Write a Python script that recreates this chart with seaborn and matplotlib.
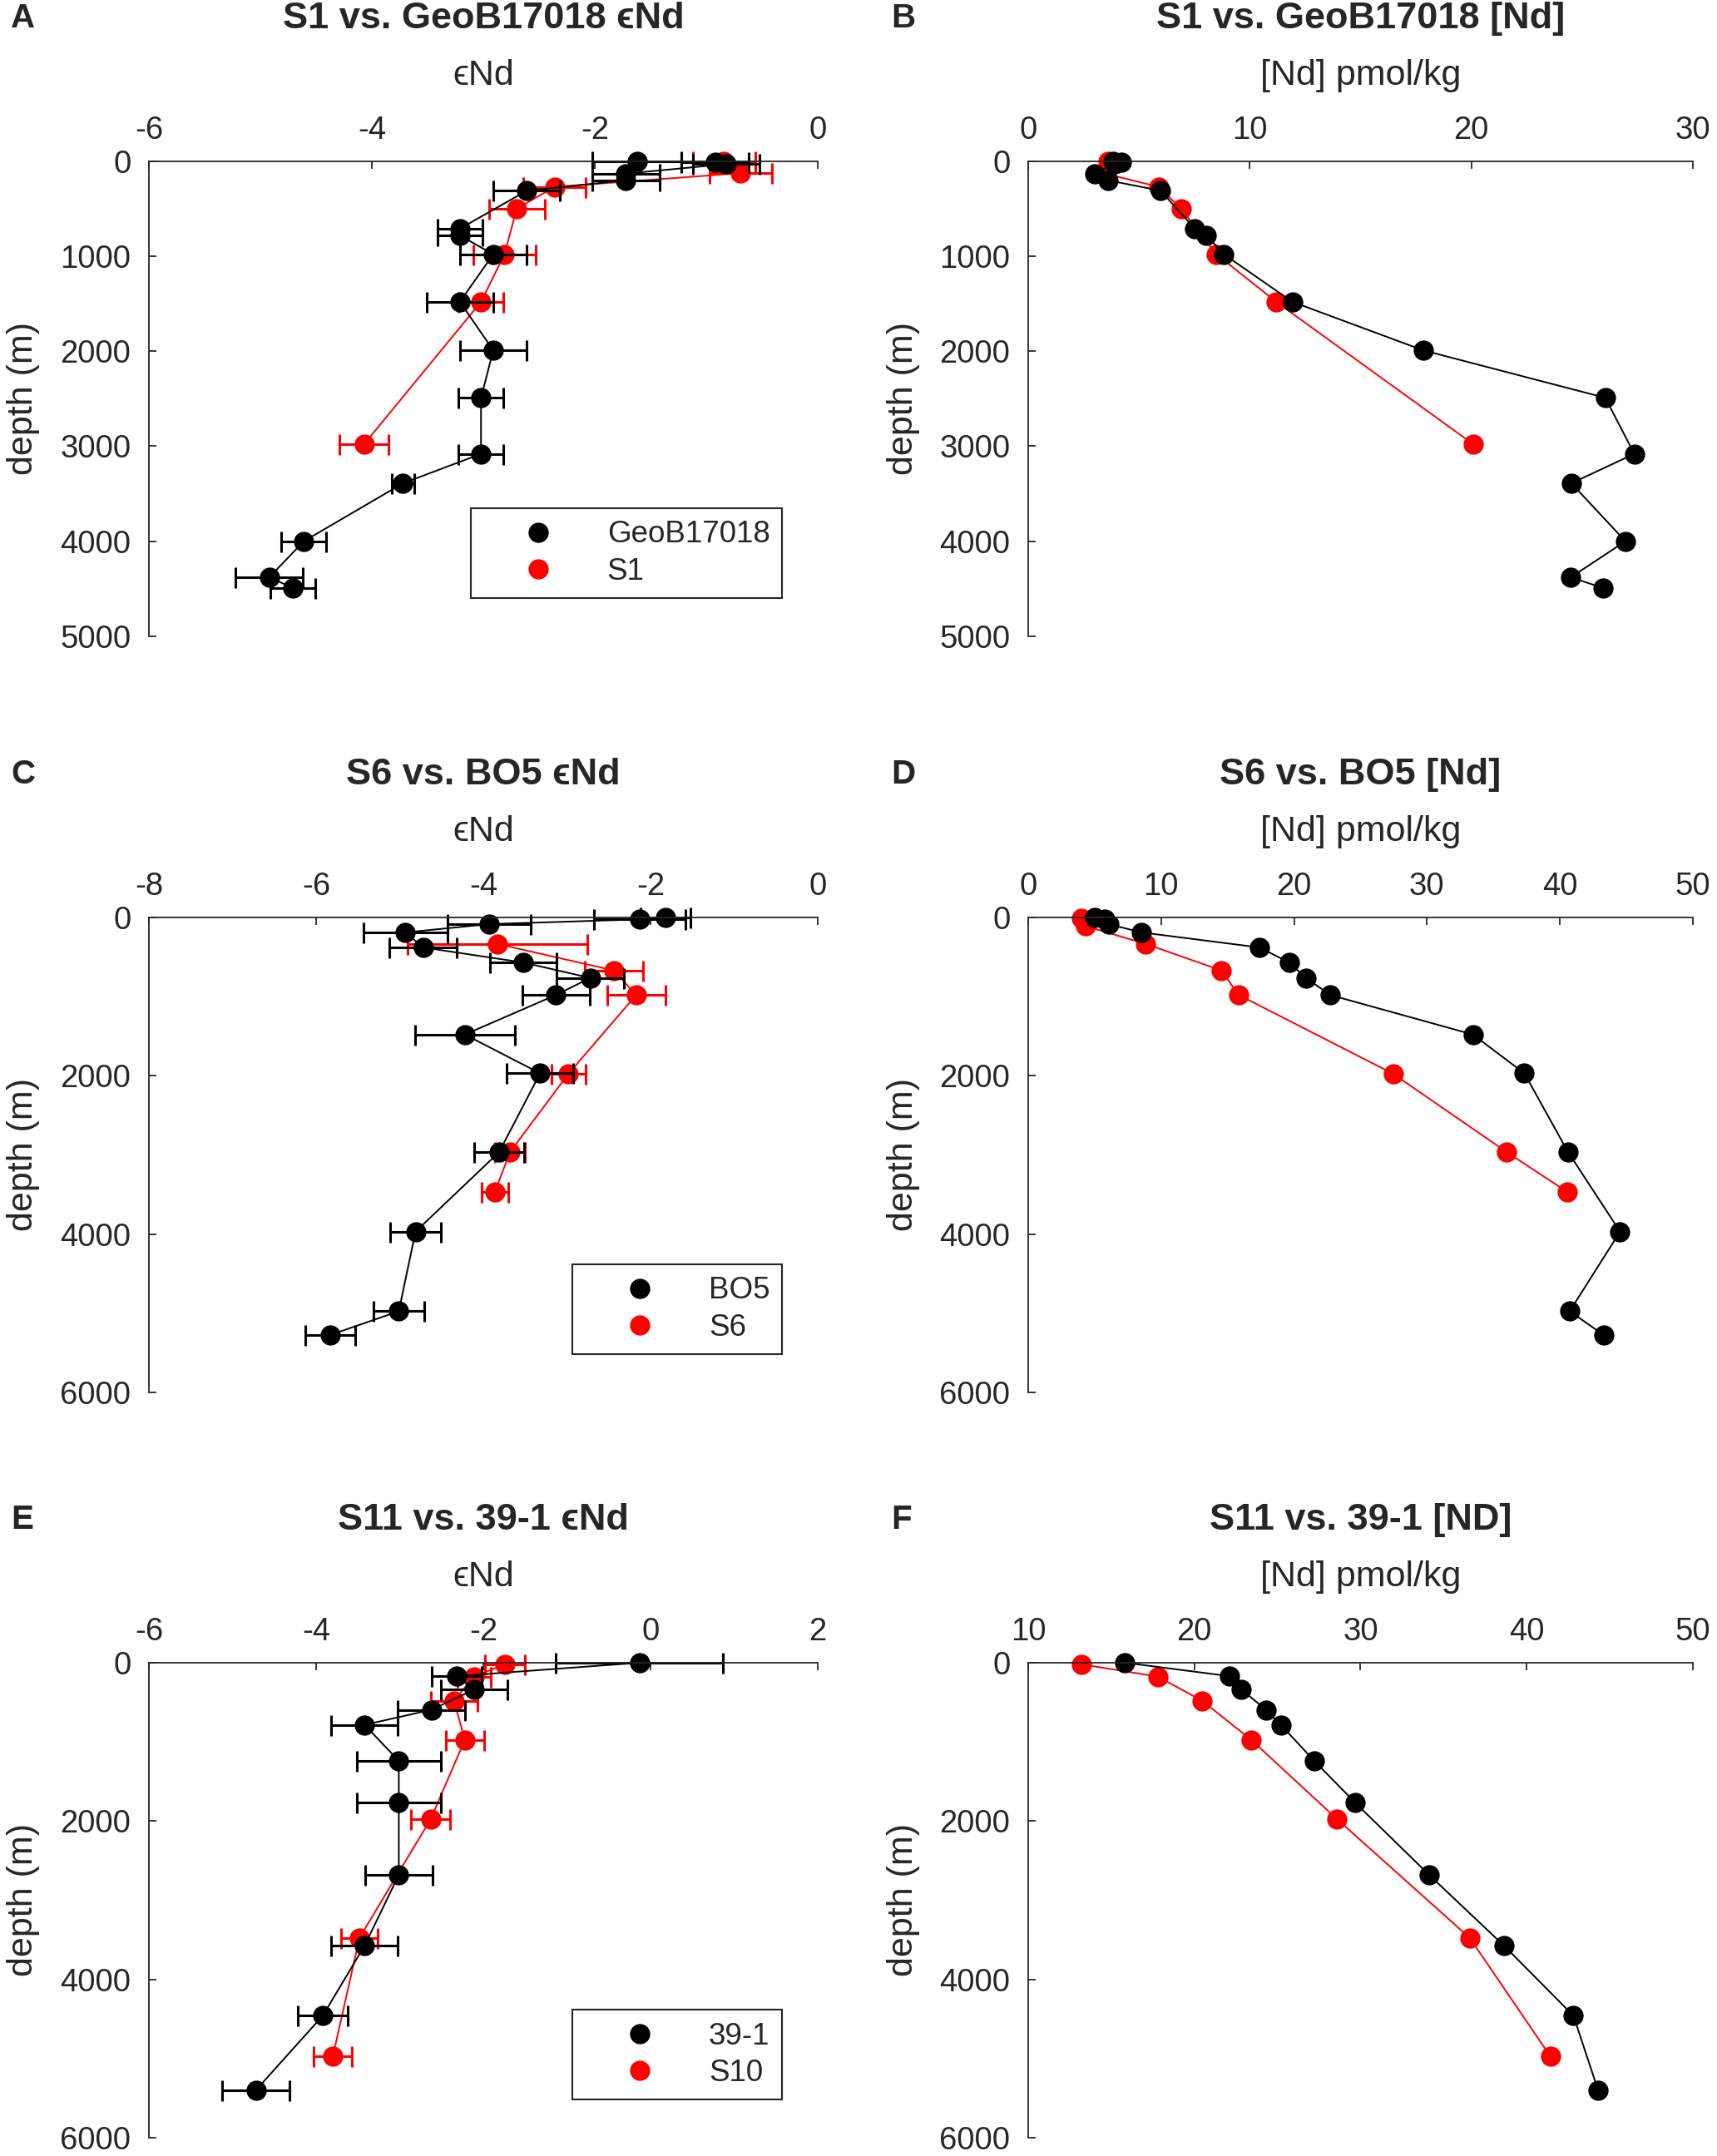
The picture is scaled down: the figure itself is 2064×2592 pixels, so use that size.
import numpy as np
import pandas as pd
import seaborn as sns
import matplotlib.pyplot as plt
from matplotlib.lines import Line2D

# --- GeoB17018 vs S1 (panels A, B) ---
geob_depth = [0, 10, 30, 130, 200, 310, 710, 780, 980, 1480, 1990, 2490, 3080, 3390, 4000, 4380, 4490]
geob_end = [-1.62, -0.92, -0.82, -1.72, -1.72, -2.61, -3.21, -3.21, -2.91, -3.21, -2.91, -3.02, -3.02,
            -3.72, -4.61, -4.92, -4.71]
geob_err = [0.4, 0.3, 0.3, 0.3, 0.3, 0.3, 0.2, 0.2, 0.3, 0.3, 0.3, 0.2, 0.2, 0.1, 0.2, 0.3, 0.2]
geob_nd = [3.85, 4.2, 3.9, 3.0, 3.6, 5.98, 7.53, 8.05, 8.84, 11.93, 17.83, 26.05, 27.36, 24.52, 26.96,
           24.49, 25.93]

s1_depth = [0, 125, 270, 500, 980, 1480, 2980]
s1_end = [-0.84, -0.69, -2.36, -2.70, -2.81, -3.02, -4.07]
s1_err = [0.28, 0.28, 0.28, 0.25, 0.28, 0.2, 0.22]
s1_nd = [3.6, 3.4, 5.9, 6.9, 8.5, 11.2, 20.1]

# --- BO5 vs S6 (panels C, D) ---
bo5_depth = [0, 25, 85, 190, 380, 570, 765, 980, 1480, 1970, 2965, 3970, 4975, 5275]
bo5_end = [-1.82, -2.13, -3.93, -4.93, -4.72, -3.52, -2.72, -3.13, -4.22, -3.32, -3.81, -4.81, -5.01, -5.83]
bo5_err = [0.3, 0.55, 0.5, 0.5, 0.4, 0.4, 0.4, 0.4, 0.6, 0.4, 0.3, 0.3, 0.3, 0.3]
bo5_nd = [5.02, 5.76, 6.05, 8.52, 17.41, 19.63, 20.9, 22.72, 33.46, 37.33, 40.62, 44.53, 40.74, 43.29]

s6_depth = [15, 110, 335, 670, 980, 1975, 2965, 3465]
s6_nd = [3.99, 4.32, 8.85, 14.53, 15.84, 27.45, 36.0, 40.53]
s6_end_depth = [335, 670, 980, 1975, 2965, 3465]
s6_end = [-3.83, -2.44, -2.17, -2.98, -3.68, -3.86]
s6_err = [1.07, 0.35, 0.35, 0.2, 0.18, 0.16]

# --- 39-1 vs S10 (panels E, F) ---
st39_depth = [0, 170, 340, 595, 785, 1240, 1770, 2680, 3575, 4460, 5400]
st39_end = [-0.13, -2.32, -2.11, -2.62, -3.42, -3.01, -3.01, -3.01, -3.42, -3.92, -4.72]
st39_err = [1.0, 0.3, 0.4, 0.4, 0.4, 0.5, 0.5, 0.4, 0.4, 0.3, 0.4]
st39_nd = [15.83, 22.12, 22.84, 24.32, 25.21, 27.22, 29.69, 34.13, 38.64, 42.82, 44.30]

s10_depth = [20, 175, 480, 975, 1978, 3475, 4975]
s10_end = [-1.74, -2.11, -2.35, -2.22, -2.63, -3.48, -3.80]
s10_err = [0.24, 0.2, 0.28, 0.23, 0.23, 0.22, 0.23]
s10_nd = [13.19, 17.80, 20.47, 23.43, 28.60, 36.57, 41.44]

sns.set_style('white')
plt.rcParams['font.family'] = ['Liberation Sans', 'DejaVu Sans']
plt.rcParams['axes.unicode_minus'] = False

RED = '#ff0000'
MS = 17.5


def profile(ax, depth, val, color, err=None):
    df = pd.DataFrame({'val': val, 'depth': depth})
    if err is not None:
        ax.errorbar(val, depth, xerr=err, fmt='none', ecolor=color, elinewidth=2.2,
                    capsize=9, capthick=2.2, clip_on=False)
    sns.lineplot(data=df, x='val', y='depth', sort=False, estimator=None, color=color,
                 linewidth=1.4, marker='o', markersize=MS, markeredgewidth=0,
                 clip_on=False, legend=False, ax=ax)


def setup(ax, xlim, xticks, ymax, yticks, xlabel, title, letter, legend=None):
    ax.set_xlim(xlim)
    ax.set_ylim(ymax, 0)
    ax.set_xticks(xticks)
    ax.set_yticks(yticks)
    ax.xaxis.tick_top()
    ax.tick_params(axis='both', direction='in', length=6.5, width=1.3, labelsize=27.5,
                   colors='#262626')
    ax.tick_params(axis='x', pad=13.5, top=True, bottom=False)
    ax.tick_params(axis='y', pad=15.5, left=True, right=False)
    for s in ['right', 'bottom']:
        ax.spines[s].set_visible(False)
    for s in ['left', 'top']:
        ax.spines[s].set_linewidth(1.3)
        ax.spines[s].set_color('#262626')
    ax.set_xlabel('')
    ax.set_ylabel('')
    ax.text(0.5, 1.18, xlabel, transform=ax.transAxes, ha='center', va='center',
            fontsize=31, color='#262626')
    ax.text(-0.188, 0.5, 'depth (m)', transform=ax.transAxes, rotation=90,
            ha='center', va='center', fontsize=31, color='#262626')
    ax.text(0.5, 1.301, title, transform=ax.transAxes, ha='center', va='center',
            fontsize=32.5, fontweight='bold')
    ax.text(-0.206, 1.301, letter, transform=ax.transAxes, ha='left', va='center',
            fontsize=29, fontweight='bold')
    if legend is not None:
        handles = [Line2D([], [], ls='none', marker='o', color='black', markersize=MS, mew=0),
                   Line2D([], [], ls='none', marker='o', color=RED, markersize=MS, mew=0)]
        leg = ax.legend(handles, legend, loc='upper right', bbox_to_anchor=(0.947, 0.27),
                        borderaxespad=0, frameon=True, fancybox=False, framealpha=1,
                        edgecolor='#262626', fontsize=26.5, handlelength=3.6,
                        handletextpad=0.45, borderpad=0.4, labelspacing=0.25)
        leg.get_frame().set_linewidth(1.5)


fig = plt.figure(figsize=(20.64, 25.92), dpi=100)
lefts = [0.0867, 0.5988]
widths = [0.3895, 0.3871]
bottoms = [0.7049, 0.3542, 0.0085]
h = 0.2203

axA = fig.add_axes([lefts[0], bottoms[0], widths[0], h])
axB = fig.add_axes([lefts[1], bottoms[0], widths[1], h])
axC = fig.add_axes([lefts[0], bottoms[1], widths[0], h])
axD = fig.add_axes([lefts[1], bottoms[1], widths[1], h])
axE = fig.add_axes([lefts[0], bottoms[2], widths[0], h])
axF = fig.add_axes([lefts[1], bottoms[2], widths[1], h])

eps = '\u03f5Nd'

# A
profile(axA, s1_depth, s1_end, RED, s1_err)
profile(axA, geob_depth, geob_end, 'black', geob_err)
setup(axA, (-6, 0), [-6, -4, -2, 0], 5000, range(0, 5001, 1000), eps,
      'S1 vs. GeoB17018 ' + eps, 'A', legend=['GeoB17018', 'S1'])

# B
profile(axB, s1_depth, s1_nd, RED)
profile(axB, geob_depth, geob_nd, 'black')
setup(axB, (0, 30), [0, 10, 20, 30], 5000, range(0, 5001, 1000), '[Nd] pmol/kg',
      'S1 vs. GeoB17018 [Nd]', 'B')

# C
profile(axC, s6_end_depth, s6_end, RED, s6_err)
profile(axC, bo5_depth, bo5_end, 'black', bo5_err)
setup(axC, (-8, 0), [-8, -6, -4, -2, 0], 6000, range(0, 6001, 2000), eps,
      'S6 vs. BO5 ' + eps, 'C', legend=['BO5', 'S6'])

# D
profile(axD, s6_depth, s6_nd, RED)
profile(axD, bo5_depth, bo5_nd, 'black')
setup(axD, (0, 50), [0, 10, 20, 30, 40, 50], 6000, range(0, 6001, 2000), '[Nd] pmol/kg',
      'S6 vs. BO5 [Nd]', 'D')

# E
profile(axE, s10_depth, s10_end, RED, s10_err)
profile(axE, st39_depth, st39_end, 'black', st39_err)
setup(axE, (-6, 2), [-6, -4, -2, 0, 2], 6000, range(0, 6001, 2000), eps,
      'S11 vs. 39-1 ' + eps, 'E', legend=['39-1', 'S10'])

# F
profile(axF, s10_depth, s10_nd, RED)
profile(axF, st39_depth, st39_nd, 'black')
setup(axF, (10, 50), [10, 20, 30, 40, 50], 6000, range(0, 6001, 2000), '[Nd] pmol/kg',
      'S11 vs. 39-1 [ND]', 'F')

fig.savefig('out.png', dpi=100, facecolor='white')
